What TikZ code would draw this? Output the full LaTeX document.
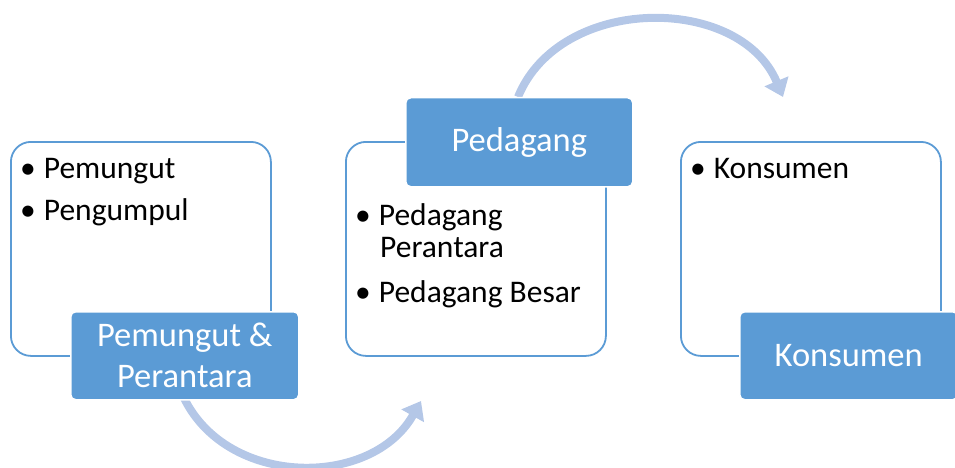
\documentclass[tikz,border=0pt]{standalone}
\usepackage{fontspec}
\setmainfont{Carlito}
\usetikzlibrary{arrows.meta}
\definecolor{accent}{HTML}{5B9BD5}
\definecolor{arrowblue}{HTML}{B4C7E7}
\tikzset{
  outlinebox/.style={draw=accent, line width=1.8pt, fill=white, rounded corners=20pt, anchor=north west, inner sep=0pt},
  labelbox/.style={draw=white, line width=1.5pt, fill=accent, rounded corners=5pt, anchor=north west, inner sep=0pt, text=white, align=center, font=\fontsize{34.5}{41}\selectfont},
  bullettext/.style={anchor=base west, inner sep=0pt, font=\fontsize{31.5}{32}\selectfont, align=left},
  flowarrow/.style={draw=arrowblue, line width=8pt, -{Triangle[length=17pt,width=25pt]}}
}
\begin{document}
\begin{tikzpicture}[x=1pt,y=-1pt]
\useasboundingbox (0,0) rectangle (955,468);
% arrows
\coordinate (a1s) at (184,398);
\coordinate (a1e) at (421,401);
\coordinate (a2s) at (518,97);
\coordinate (a2e) at (783,97);
\draw[flowarrow] (a1s) .. controls (228,488) and (372,488) .. (a1e);
\draw[flowarrow] (a2s) .. controls (560,-6) and (740,-6) .. (a2e);
% outline boxes
\node[outlinebox, minimum width=260pt, minimum height=214pt] (box1) at (10,141) {};
\node[outlinebox, minimum width=260pt, minimum height=214pt] (box2) at (345,141) {};
\node[outlinebox, minimum width=260pt, minimum height=214pt] (box3) at (680,141) {};
% bullet texts
\node[bullettext] (t11) at (20,178) {•\hspace{8pt}Pemungut};
\node[bullettext] (t12) at (20,220) {•\hspace{8pt}Pengumpul};
\node[bullettext] (t21) at (355,225) {•\hspace{8pt}Pedagang};
\node[bullettext] (t22) at (380,257) {Perantara};
\node[bullettext] (t23) at (355,302) {•\hspace{8pt}Pedagang Besar};
\node[bullettext] (t31) at (690,178) {•\hspace{8pt}Konsumen};
% label boxes
\node[labelbox, minimum width=228pt, minimum height=88pt] (lab1) at (70,311) {Pemungut \&\\Perantara};
\node[labelbox, minimum width=227pt, minimum height=89pt] (lab2) at (405,97) {Pedagang};
\node[labelbox, minimum width=218pt, minimum height=88pt] (lab3) at (739,311) {Konsumen};
\end{tikzpicture}
\end{document}
